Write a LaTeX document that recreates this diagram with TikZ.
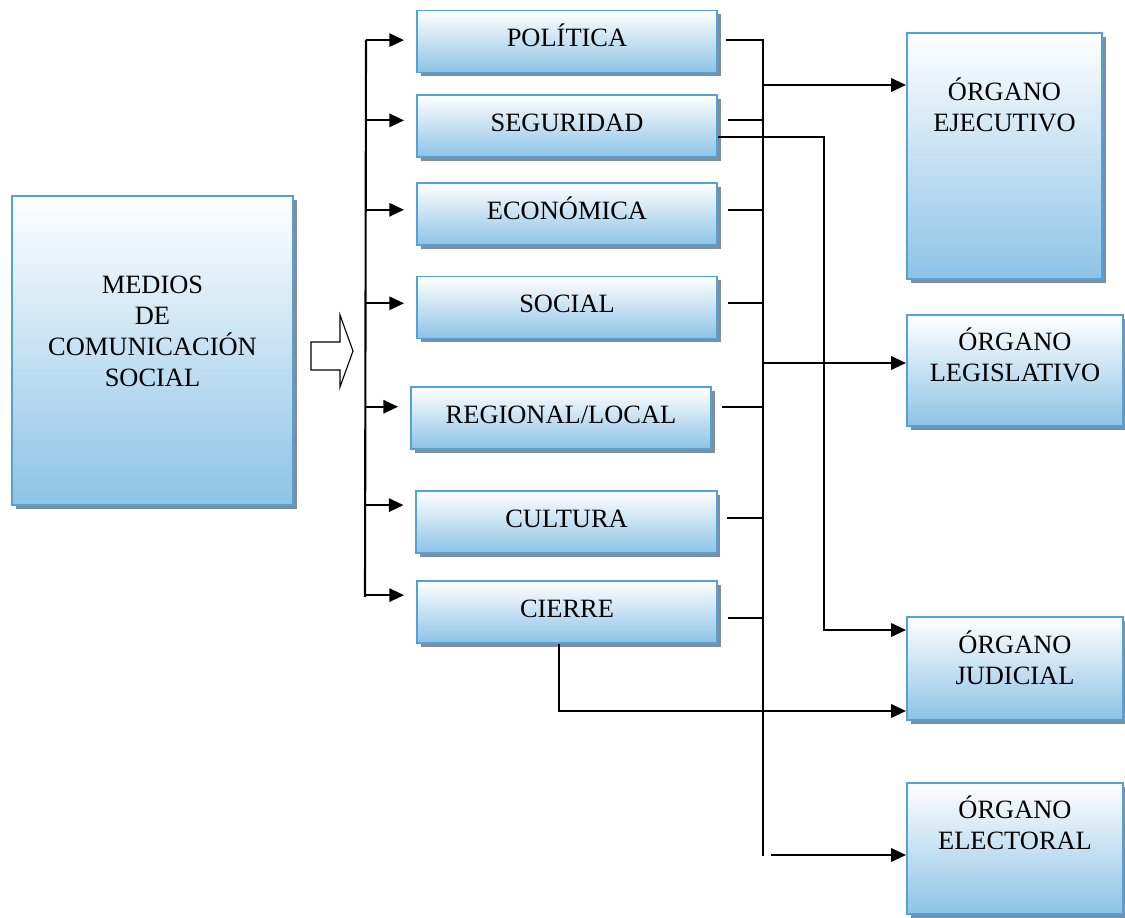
\documentclass[tikz,border=0pt]{standalone}
\usepackage{fontspec}
\setmainfont{Liberation Serif}
\usetikzlibrary{arrows.meta,shadows}
\definecolor{boxblue}{RGB}{141,195,230}
\definecolor{boxline}{RGB}{79,163,218}
\definecolor{shadowgrey}{RGB}{128,141,155}

\begin{document}
\begin{tikzpicture}[x=0.025cm,y=-0.025cm,
  box/.style={draw=boxline,line width=1.4pt,top color=white,bottom color=boxblue,
    drop shadow={shadow xshift=2.8pt,shadow yshift=-2.8pt,fill=shadowgrey,opacity=1},
    inner sep=0pt,font=\fontsize{18.8}{22}\selectfont},
  tema/.style={box,minimum width=7.5cm,minimum height=1.55cm,text height=0.95em,text depth=0.2em},
  txt/.style={align=center,font=\fontsize{18.8}{22}\selectfont},
  conn/.style={line width=1.5pt},
  arr/.style={conn,-{Triangle[length=10.5pt,width=9.5pt]}}]
\useasboundingbox (0,0) rectangle (1125,918);

\node[box,minimum width=7.025cm,minimum height=7.725cm] (medios) at (152.5,350.5) {};
\node[txt] (mediostxt) at (152.5,331) {MEDIOS\\DE\\COMUNICACIÓN\\SOCIAL};
\draw[line width=0.8pt,fill=white] (311,342) -- (340,342) -- (340,315) -- (353,351)
  -- (340,387) -- (340,370) -- (311,370) -- cycle;

\foreach \n/\t/\x/\y in {pol/POLÍTICA/567/41.5,seg/SEGURIDAD/567/126,eco/ECONÓMICA/567/214,
  soc/SOCIAL/567/307.5,reg/{REGIONAL/LOCAL}/561/418,cul/CULTURA/566.5/522,cie/CIERRE/567/612}
  \node[tema] (\n) at (\x,\y) {\t};

\node[box,minimum width=4.875cm,minimum height=6.15cm] (ejec) at (1004.5,156) {};
\node[txt] (ejectxt) at (1004.5,105) {ÓRGANO\\EJECUTIVO};
\node[box,minimum width=5.4cm,minimum height=2.775cm] (legi) at (1015,370.5) {};
\node[txt] (legitxt) at (1015,355) {ÓRGANO\\LEGISLATIVO};
\node[box,minimum width=5.4cm,minimum height=2.575cm] (judi) at (1015,668.5) {};
\node[txt] (juditxt) at (1015,658) {ÓRGANO\\JUDICIAL};
\node[box,minimum width=5.4cm,minimum height=3.275cm] (elec) at (1015,848.5) {};
\node[txt] (electxt) at (1015,823) {ÓRGANO\\ELECTORAL};

\coordinate (lt) at (366,40);
\coordinate (lb) at (365,597);
\draw[conn] (lt) -- (lb);
\foreach \n/\s in {pol/1pt,seg/4pt,eco/3pt,soc/3pt,reg/8pt,cul/12pt,cie/12pt} {
  \coordinate (\n-in) at ([yshift=\s]\n.west);
  \draw[arr,shorten >=8.5pt] (lt |- \n-in) -- (\n-in);
}

\coordinate (rt) at (763,40);
\coordinate (rb) at (763,856);
\draw[conn,shorten <=6pt] (pol.east |- rt) -- (rt) -- (rb);
\foreach \n/\s in {seg/4pt,eco/3pt,soc/3pt,reg/8pt,cul/3pt,cie/-4pt} {
  \coordinate (\n-out) at ([yshift=\s]\n.east);
  \draw[conn,shorten <=7pt] (\n-out) -- (\n-out -| rt);
}

\coordinate (t1) at (763,85);
\coordinate (t2) at (763,363);
\coordinate (t3) at (771,855);
\draw[arr] (t1) -- (t1 -| ejec.west);
\draw[arr] (t2) -- (t2 -| legi.west);
\draw[arr] (t3) -- (t3 -| elec.west);

\coordinate (sj) at (824,630);
\draw[arr] ([yshift=-7.8pt]seg.east) -| (sj) -- (sj -| judi.west);
\coordinate (cj) at (559,711);
\draw[arr] (cie.south -| cj) -- (cj) -- (cj -| judi.west);
\end{tikzpicture}
\end{document}
